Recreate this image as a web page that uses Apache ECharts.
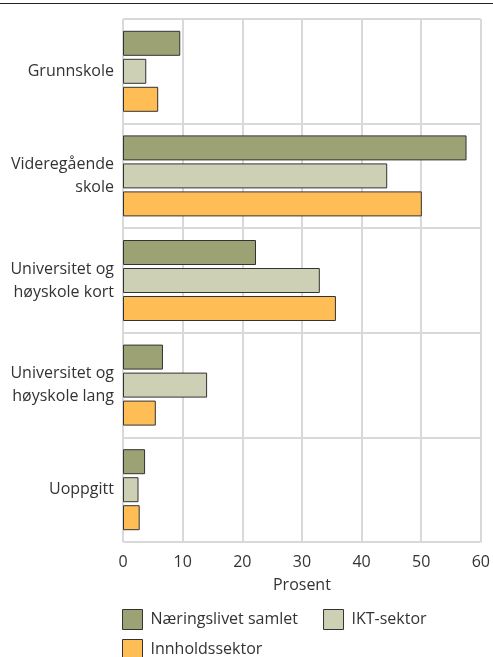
<!DOCTYPE html>
<html>
<head>
    <meta charset="utf-8">
    <title>Utdanning</title>
    <script src="https://cdn.jsdelivr.net/npm/echarts@6/dist/echarts.min.js"></script>
    <style>
        html, body { margin: 0; padding: 0; background: #fff; }
        #chart { width: 493px; height: 657px; }
    </style>
</head>
<body>
<div id="chart"></div>
<script type="text/javascript">
    // kategorier og verdier (prosent)
    var categories = ['Grunnskole', 'Videregående\nskole', 'Universitet og\nhøyskole kort', 'Universitet og\nhøyskole lang', 'Uoppgitt'];
    var seriesNames = ['Næringslivet samlet', 'IKT-sektor', 'Innholdssektor'];
    var naeringslivet = [9.6, 57.6, 22.3, 6.7, 3.7];
    var iktSektor = [3.9, 44.3, 33.0, 14.1, 2.6];
    var innholdssektor = [5.9, 50.1, 35.7, 5.5, 2.8];
    var colors = ['#9da274', '#cdd0b5', '#ffbe55'];

    var font = '"Open Sans", "Noto Sans", sans-serif';
    var myChart = echarts.init(document.getElementById('chart'));

    function bar(name, data, color) {
        return {
            name: name,
            type: 'bar',
            data: data,
            barWidth: 25,
            barGap: '12%',
            itemStyle: { color: color, borderColor: '#333', borderWidth: 1 }
        };
    }

    var legendCommon = {
        itemWidth: 20,
        itemHeight: 20,
        itemGap: 25,
        icon: 'rect',
        itemStyle: { borderWidth: 1, borderColor: '#333' },
        textStyle: { fontFamily: font, fontSize: 16, color: '#333', padding: [0, 0, 0, 3] }
    };

    myChart.setOption({
        animation: false,
        graphic: [{
            type: 'line',
            shape: { x1: 0, y1: 3.5, x2: 493, y2: 3.5 },
            style: { stroke: '#222', lineWidth: 1.2 }
        }],
        grid: { left: 123, top: 19, right: 11, bottom: 115, containLabel: false },
        legend: [
            Object.assign({ left: 117, top: 604, data: seriesNames.slice(0, 2) }, legendCommon),
            Object.assign({ left: 117, top: 634, data: seriesNames.slice(2) }, legendCommon)
        ],
        xAxis: {
            type: 'value',
            min: 0,
            max: 60,
            interval: 10,
            name: 'Prosent',
            nameLocation: 'middle',
            nameGap: 35,
            nameTextStyle: { fontFamily: font, fontSize: 16, color: '#333' },
            axisLine: { show: false },
            axisTick: { show: false },
            axisLabel: { fontFamily: font, fontSize: 16, color: '#333', margin: 12 },
            splitLine: { show: true, lineStyle: { color: '#d9d9d9', width: 2 } }
        },
        yAxis: {
            type: 'category',
            data: categories,
            inverse: true,
            axisLine: { show: false },
            axisTick: { show: false },
            axisLabel: { fontFamily: font, fontSize: 16, color: '#333', margin: 9, lineHeight: 23, align: 'right' },
            splitLine: { show: true, lineStyle: { color: '#d9d9d9', width: 2 } }
        },
        series: [
            bar(seriesNames[0], naeringslivet, colors[0]),
            bar(seriesNames[1], iktSektor, colors[1]),
            bar(seriesNames[2], innholdssektor, colors[2])
        ]
    });
</script>
</body>
</html>
